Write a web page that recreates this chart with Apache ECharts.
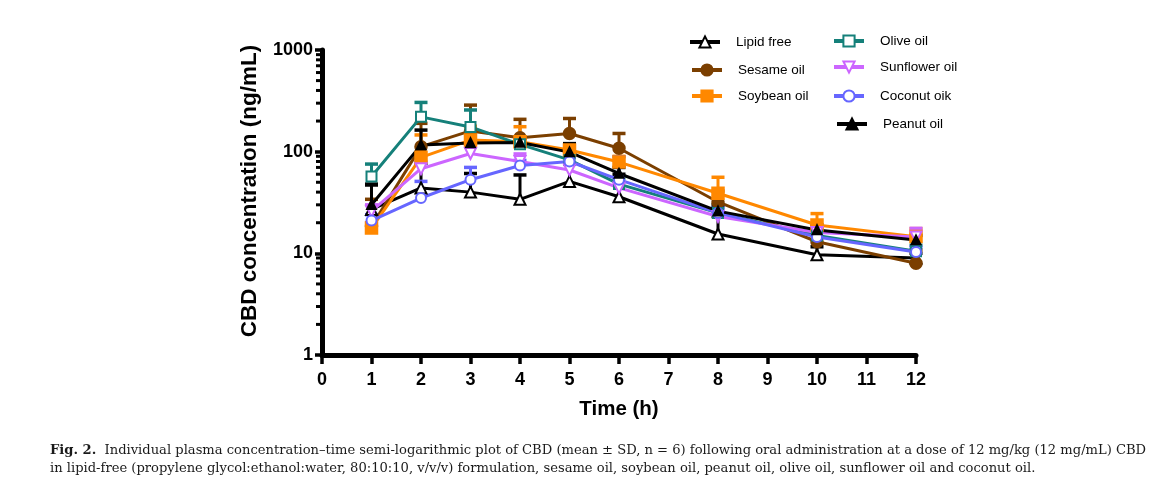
<!DOCTYPE html>
<html><head><meta charset="utf-8">
<script src="https://cdn.jsdelivr.net/npm/echarts@6/dist/echarts.min.js"></script>
<style>html,body{margin:0;padding:0;background:#fff}#c{width:1157px;height:488px}</style>
</head><body><div id="c"></div>
<script>
// Data (time in hours, concentrations in ng/mL)
const hours = [1, 2, 3, 4, 5, 6, 8, 10, 12];
const xTicks = [0,1,2,3,4,5,6,7,8,9,10,11,12];
const yTicks = [1, 10, 100, 1000];
const lipidFree = [27, 44, 40, 34, 51, 36, 15.5, 9.7, 9.0];
const lipidFreeSD = [20, 33, 21, 25, 67, 24, 7.5, 1.9, 1.0];
const sesame = [18.5, 112, 160, 137, 151, 108, 32, 13, 8];
const sesameSD = [15.5, 78, 127, 71, 61, 43, 9, 3.3, 2.8];
const soybean = [17.7, 88, 130, 125, 104, 79, 39, 19, 14.6];
const soybeanSD = [2.3, 58, 48, 51, 11, 11, 17, 5.6, 2.9];
const peanut = [30, 116, 122, 123, 99, 61, 26, 17, 13.5];
const peanutSD = [18, 47, 13, 12, 21, 9, 4, 2, 1.5];
const olive = [57, 220, 175, 118, 83, 48, 25, 15, 10.5];
const oliveSD = [18.5, 85, 82, 22, 12, 7, 3, 2, 1.5];
const sunflower = [26, 68, 96, 80, 66, 44, 23, 16, 14.5];
const sunflowerSD = [4, 12, 19, 15, 9, 6, 3, 1.5, 3.1];
const coconut = [21, 35, 53, 73, 80, 53, 25, 14.5, 10.3];
const coconutSD = [3, 16, 17, 9, 8, 36, 3, 1.5, 1.2];
const minorTicks = [2,3,4,5,6,7,8,9,20,30,40,50,60,70,80,90,200,300,400,500,600,700,800,900];

const defs = [
  {name:'Lipid free', mean:lipidFree, sd:lipidFreeSD, color:'#000000', symbol:'emptyTriangle', rot:0, size:11},
  {name:'Sesame oil', mean:sesame, sd:sesameSD, color:'#7B3F00', symbol:'circle', rot:0, size:11},
  {name:'Soybean oil', mean:soybean, sd:soybeanSD, color:'#FF8800', symbol:'rect', rot:0, size:11},
  {name:'Olive oil', mean:olive, sd:oliveSD, color:'#15807A', symbol:'emptyRect', rot:0, size:10},
  {name:'Sunflower oil', mean:sunflower, sd:sunflowerSD, color:'#CC66FF', symbol:'emptyTriangle', rot:180, size:11},
  {name:'Coconut oik', mean:coconut, sd:coconutSD, color:'#6666FF', symbol:'emptyCircle', rot:0, size:10},
  {name:'Peanut oil', mean:peanut, sd:peanutSD, color:'#000000', symbol:'triangle', rot:0, size:8}
];

const legendPos = {
  'Lipid free':[688, 42], 'Sesame oil':[690, 70], 'Soybean oil':[690, 96],
  'Olive oil':[832, 41], 'Sunflower oil':[832, 67], 'Coconut oik':[832, 96], 'Peanut oil':[835, 124]
};

const series = [];
// minor ticks on the log y-axis (pointing outward)
series.push({
  type:'custom', silent:true, clip:false, z:5,
  data: minorTicks.map(v => [0, v]),
  renderItem: (params, api) => {
    const p = api.coord([0, api.value(1)]);
    return {type:'line', shape:{x1:p[0]-6, y1:p[1], x2:p[0], y2:p[1]}, style:{stroke:'#000', lineWidth:3}};
  }
});
defs.forEach(d => {
  series.push({
    type:'custom', name:d.name + ' SD', silent:true, clip:false, z:2,
    data: hours.map((h,i) => [h, d.mean[i], d.mean[i] + d.sd[i]]),
    renderItem: (params, api) => {
      const p0 = api.coord([api.value(0), api.value(1)]);
      const p1 = api.coord([api.value(0), api.value(2)]);
      return {type:'group', children:[
        {type:'line', shape:{x1:p0[0], y1:p0[1], x2:p1[0], y2:p1[1]}, style:{stroke:d.color, lineWidth:3}},
        {type:'line', shape:{x1:p1[0]-6.5, y1:p1[1], x2:p1[0]+6.5, y2:p1[1]}, style:{stroke:d.color, lineWidth:3.5}}
      ]};
    }
  });
  series.push({
    type:'line', name:d.name, z:3,
    data: hours.map((h,i) => [h, d.mean[i]]),
    symbol:d.symbol, symbolSize:d.size, symbolRotate:d.rot, showAllSymbol:true,
    lineStyle:{color:d.color, width:3},
    itemStyle:{color:d.color, borderColor:d.color, borderWidth:2.5},
    emphasis:{disabled:true}, animation:false
  });
});

const legends = defs.map(d => ({
  data:[{name:d.name}], left:legendPos[d.name][0], top:legendPos[d.name][1]-7,
  padding:0, itemWidth:30, itemHeight:14, symbolRotate:'inherit',
  selectedMode:false,
  lineStyle:{width:4},
  textStyle:{fontFamily:'Liberation Sans, Arial', fontSize:13.5, color:'#000', padding:[0,0,0,11], lineHeight:14}
}));

const chart = echarts.init(document.getElementById('c'), null, {renderer:'canvas'});
chart.setOption({
  animation:false,
  backgroundColor:'#fff',
  grid:{left:322, right:241, top:50, bottom:133, containLabel:false},
  legend:legends,
  xAxis:{
    type:'value', min:0, max:12, interval:1,
    name:'Time (h)', nameLocation:'middle', nameGap:44,
    nameTextStyle:{fontFamily:'Liberation Sans, Arial', fontWeight:'bold', fontSize:20.5, color:'#000'},
    axisLine:{lineStyle:{color:'#000', width:5}},
    axisTick:{show:true, length:9, lineStyle:{width:3.5, color:'#000'}},
    axisLabel:{margin:16, fontFamily:'Liberation Sans, Arial', fontWeight:'bold', fontSize:18, color:'#000',
      formatter: v => xTicks.includes(v) ? String(v) : ''},
    splitLine:{show:false}
  },
  yAxis:{
    type:'log', logBase:10, min:yTicks[0], max:yTicks[yTicks.length-1],
    axisLine:{show:true, lineStyle:{color:'#000', width:5}},
    axisTick:{show:true, length:7, lineStyle:{width:3.5, color:'#000'}},
    axisLabel:{margin:9, fontFamily:'Liberation Sans, Arial', fontWeight:'bold', fontSize:18, color:'#000',
      formatter: v => String(Math.round(v))},
    splitLine:{show:false}
  },
  graphic:[
    {type:'text', x:250, y:191, rotation:Math.PI/2, style:{
      text:'CBD concentration (ng/mL)', align:'center', verticalAlign:'middle',
      fontFamily:'Liberation Sans, Arial', fontWeight:'bold', fontSize:22.5, fill:'#000'
    }},
    {type:'text', left:50, top:444, style:{
      text:'{b|Fig. 2.}  Individual plasma concentration–time semi-logarithmic plot of CBD (mean ± SD, n = 6) following oral administration at a dose of 12 mg/kg (12 mg/mL) CBD',
      fontFamily:'DejaVu Serif, serif', fontSize:13.1, fill:'#1a1a1a',
      rich:{b:{fontFamily:'DejaVu Serif, serif', fontWeight:'bold', fontSize:13.1, fill:'#1a1a1a'}}
    }},
    {type:'text', left:50, top:462, style:{
      text:'in lipid-free (propylene glycol:ethanol:water, 80:10:10, v/v/v) formulation, sesame oil, soybean oil, peanut oil, olive oil, sunflower oil and coconut oil.',
      fontFamily:'DejaVu Serif, serif', fontSize:13.1, fill:'#1a1a1a'
    }}
  ],
  series:series
});
</script></body></html>
